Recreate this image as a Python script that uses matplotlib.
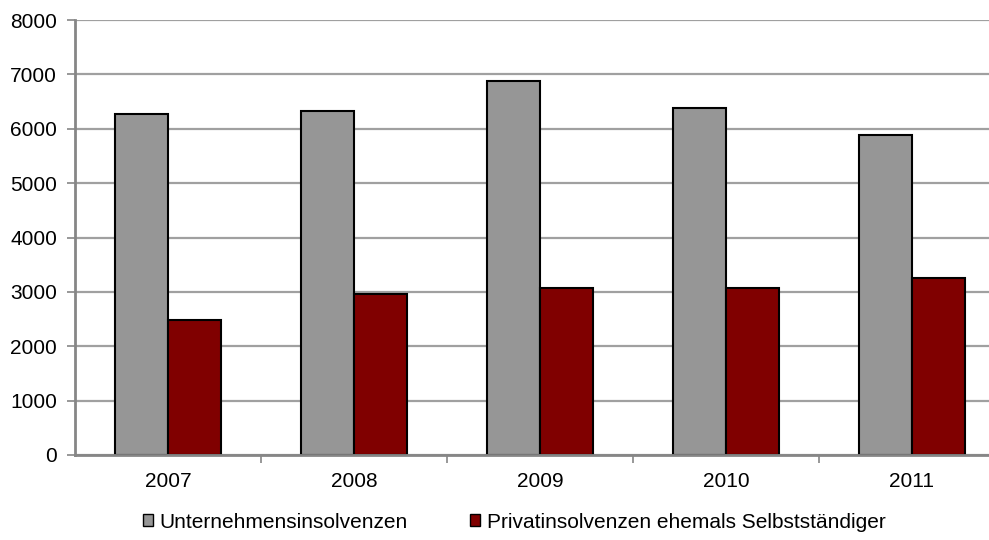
import matplotlib as mplt
mplt.use('Agg')
import matplotlib.pyplot as plt
from matplotlib.patches import Patch
import numpy as np

mplt.rcParams['font.family'] = ['Liberation Sans', 'DejaVu Sans']

years = ["2007", "2008", "2009", "2010", "2011"]
unternehmen = [6280, 6330, 6880, 6390, 5890]
privat = [2490, 2960, 3075, 3075, 3250]
yticks = [0, 1000, 2000, 3000, 4000, 5000, 6000, 7000, 8000]

label_u = "Unternehmensinsolvenzen"
label_p = "Privatinsolvenzen ehemals Selbstständiger"

col_u = "#969696"
col_p = "#800000"
axis_col = "#868686"
fs = 15

fig = plt.figure(figsize=(9.89, 5.4), dpi=100)
ax = fig.add_axes([75/989, 85/540, 930/989, 435/540])

x = np.arange(len(years))
w = 0.285
ax.bar(x - w/2, unternehmen, w, color=col_u, edgecolor="black", linewidth=1.5, zorder=3)
ax.bar(x + w/2, privat, w, color=col_p, edgecolor="black", linewidth=1.5, zorder=3)

ax.set_xlim(-0.5, len(years) - 0.5)
ax.set_ylim(0, 8000)
ax.set_yticks(yticks)
ax.set_yticklabels([str(v) for v in yticks], fontsize=fs)
ax.yaxis.grid(True, color="#a0a0a0", linewidth=1.6, zorder=0)
ax.set_axisbelow(True)

# category labels in the middle, ticks between categories
ax.set_xticks(x)
ax.set_xticklabels(years, fontsize=fs)
ax.tick_params(axis="x", length=0, pad=12)
ax.set_xticks(np.arange(len(years)) + 0.5, minor=True)
ax.tick_params(axis="x", which="minor", length=6, width=1.2, color=axis_col, direction="out")
ax.tick_params(axis="y", length=6, width=1.2, color=axis_col, direction="out", pad=7)

for s in ["top", "right"]:
    ax.spines[s].set_visible(False)
for s in ["left", "bottom"]:
    ax.spines[s].set_color(axis_col)
    ax.spines[s].set_linewidth(2)
    ax.spines[s].set_zorder(4)

handles = [Patch(facecolor=col_u, edgecolor="black", linewidth=1.0),
           Patch(facecolor=col_p, edgecolor="black", linewidth=1.0)]
fig.legend(handles, [label_u, label_p], loc="center", ncol=2,
           bbox_to_anchor=(514/989, 1 - 522/540), frameon=False, fontsize=fs,
           handlelength=0.5, handleheight=0.5, handletextpad=0.3, columnspacing=3.0)

fig.savefig("out.png", dpi=100)
